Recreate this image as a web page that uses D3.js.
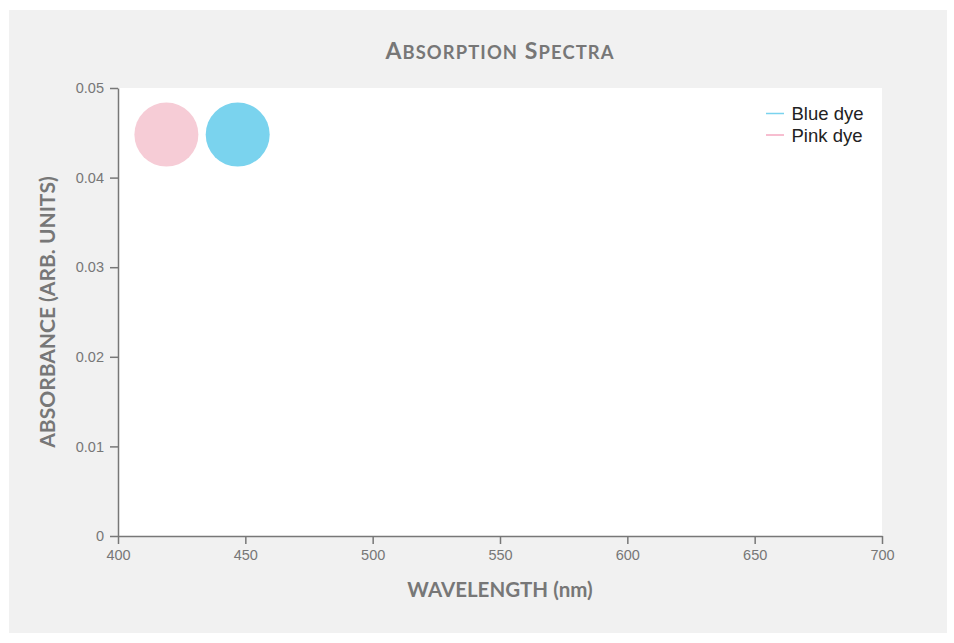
<!DOCTYPE html>
<html>
<head>
<meta charset="utf-8">
<script src="https://cdn.jsdelivr.net/npm/d3@7"></script>
<style>
  html, body { margin: 0; padding: 0; background: #ffffff; }
  svg { display: block; }
</style>
</head>
<body>
<svg id="chart" width="954" height="643"></svg>
<script>
// ---- data ----
const seriesNames = ["Blue dye", "Pink dye"];
const seriesColors = ["#7ad3ee", "#f6ccd6"];
const legendColors = ["#7ad3ee", "#f4a9c0"];
const pointWavelength = [447, 419];
const pointAbsorbance = [0.0448, 0.0448];
const xTicks = [400, 450, 500, 550, 600, 650, 700];
const yTicks = [0, 0.01, 0.02, 0.03, 0.04, 0.05];

const W = 954, H = 643;
const margin = { left: 118, right: 72, top: 88, bottom: 107 };
const svg = d3.select("#chart");

// background panel
svg.append("rect").attr("x", 9).attr("y", 10).attr("width", 938).attr("height", 623).attr("fill", "#f1f1f1");

const x = d3.scaleLinear().domain([400, 700]).range([margin.left, W - margin.right]);
const y = d3.scaleLinear().domain([0, 0.05]).range([H - margin.bottom, margin.top]);

// plot area
svg.append("rect")
  .attr("x", x(400)).attr("y", y(0.05))
  .attr("width", x(700) - x(400)).attr("height", y(0) - y(0.05))
  .attr("fill", "#ffffff");

// points
const pts = seriesNames.map((n, i) => ({ name: n, x: pointWavelength[i], y: pointAbsorbance[i], c: seriesColors[i] }));
svg.append("g").selectAll("circle").data(pts).join("circle")
  .attr("cx", d => x(d.x)).attr("cy", d => y(d.y)).attr("r", 32)
  .attr("fill", d => d.c);

// axes
const axisColor = "#777777";
const xAxis = svg.append("g").attr("transform", `translate(0,${y(0)})`)
  .call(d3.axisBottom(x).tickValues(xTicks).tickSize(8).tickPadding(6).tickSizeOuter(0).tickFormat(d3.format("d")));
const yAxis = svg.append("g").attr("transform", `translate(${x(400)},0)`)
  .call(d3.axisLeft(y).tickValues(yTicks).tickSize(8).tickPadding(6).tickSizeOuter(0).tickFormat(d => d === 0 ? "0" : d3.format(".2f")(d)));
[xAxis, yAxis].forEach(a => {
  a.selectAll("path, line").attr("stroke", axisColor).attr("stroke-width", 1.5);
  a.selectAll("text").attr("fill", axisColor).style("font-family", "Liberation Sans, Arial, sans-serif").style("font-size", "14.5px");
});

// title (small caps built from tspans)
const titleWords = ["Absorption", "Spectra"];
const title = svg.append("text").attr("x", 500).attr("y", 59).attr("text-anchor", "middle")
  .style("font-family", "Lato, sans-serif").style("font-weight", "bold")
  .attr("fill", "#777777").style("letter-spacing", "1.1px");
titleWords.forEach((w, i) => {
  title.append("tspan").style("font-size", "23px").text((i > 0 ? " " : "") + w[0].toUpperCase());
  title.append("tspan").style("font-size", "18.4px").text(w.slice(1).toUpperCase());
});

// axis titles
svg.append("text").attr("x", 500).attr("y", 597).attr("text-anchor", "middle")
  .style("font-family", "Lato, sans-serif").style("font-weight", "bold")
  .style("font-size", "20.5px").attr("fill", "#777777")
  .text("WAVELENGTH (nm)");
svg.append("text").attr("transform", `translate(55,${(y(0) + y(0.05)) / 2}) rotate(-90)`).attr("text-anchor", "middle")
  .style("font-family", "Lato, sans-serif").style("font-weight", "bold")
  .style("font-size", "21px").attr("fill", "#777777")
  .text("ABSORBANCE (ARB. UNITS)");

// legend
const lg = svg.append("g").attr("transform", "translate(766,113.5)");
seriesNames.forEach((n, i) => {
  const row = lg.append("g").attr("transform", `translate(0,${i * 21.5})`);
  row.append("line").attr("x1", 0).attr("x2", 18).attr("y1", 0).attr("y2", 0)
    .attr("stroke", legendColors[i]).attr("stroke-width", 1.5);
  row.append("text").attr("x", 25.5).attr("y", 6.5)
    .style("font-family", "Liberation Sans, Arial, sans-serif").style("font-size", "18.5px").attr("fill", "#222222")
    .text(n);
});
</script>
</body>
</html>
